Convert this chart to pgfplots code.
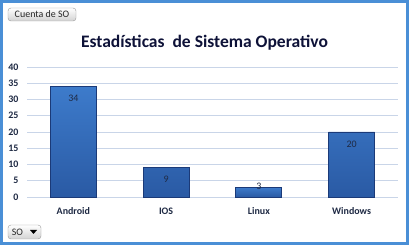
\documentclass[border=0pt]{standalone}
\usepackage{fontspec}
\setmainfont{Carlito}
\usepackage{pgfplots}
\pgfplotsset{compat=1.18}
\definecolor{frameblue}{HTML}{4A8FD6}
\definecolor{bartop}{HTML}{3D7BCB}
\definecolor{barbot}{HTML}{2A5AA4}
\definecolor{bardraw}{HTML}{1B3A78}
\definecolor{gridc}{HTML}{C9D5E8}
\definecolor{txt}{HTML}{1F2A44}
\definecolor{titlec}{HTML}{0E1238}
\begin{document}
\begin{tikzpicture}
\path[use as bounding box] (0,0) rectangle (409bp,245bp);
\fill[white] (0,0) rectangle (409bp,245bp);
\draw[frameblue, line width=3bp] (1.5bp,1.5bp) rectangle (407.5bp,243.5bp);
% title
\node[anchor=base, font=\fontsize{17.6}{20}\selectfont\bfseries, text=titlec, inner sep=0pt] at (204.5bp,197bp) {Estadísticas\ \ de Sistema Operativo};
% buttons
\draw[rounded corners=3bp, draw=gray!80, top color=white, bottom color=gray!35] (8bp,224bp) rectangle (76bp,237bp);
\node[font=\fontsize{10}{11}\selectfont, text=black!85, inner sep=0pt] at (42bp,230.5bp) {Cuenta de SO};
\draw[rounded corners=3bp, draw=gray!80, top color=white, bottom color=gray!35] (8bp,6bp) rectangle (41bp,20bp);
\node[font=\fontsize{10}{11}\selectfont, text=black!85, inner sep=0pt] at (17.5bp,13bp) {SO};
\fill[black] (30bp,15bp) -- (37bp,15bp) -- (33.5bp,11bp) -- cycle;
\begin{axis}[
  at={(27bp,48bp)}, anchor=south west,
  scale only axis, width=371bp, height=130bp,
  xmin=-0.5, xmax=3.5, ymin=0, ymax=40,
  xtick={0,1,2,3}, xticklabels={Android,IOS,Linux,Windows},
  ytick={0,5,...,40},
  ymajorgrids, grid style={gridc, line width=0.9bp},
  axis line style={draw=none},
  tick style={draw=none},
  /pgf/number format/assume math mode=true,
  ticklabel style={font=\fontsize{10}{12}\selectfont\bfseries, text=txt},
  yticklabel style={xshift=-5bp},
  xticklabel style={yshift=-7bp},
  clip=false,
  nodes near coords,
  nodes near coords style={font=\fontsize{10}{12}\selectfont, text=txt, anchor=center},
]
\addplot[ybar, bar width=46bp, bar shift=0pt, draw=bardraw, line width=0.8bp, top color=bartop, bottom color=barbot,
  nodes near coords style={yshift=-12bp}]
  coordinates {(0,34) (1,9) (3,20)};
\addplot[ybar, bar width=46bp, bar shift=0pt, draw=bardraw, line width=0.8bp, top color=bartop, bottom color=barbot,
  nodes near coords style={yshift=1bp}]
  coordinates {(2,3)};
\end{axis}
\end{tikzpicture}
\end{document}
